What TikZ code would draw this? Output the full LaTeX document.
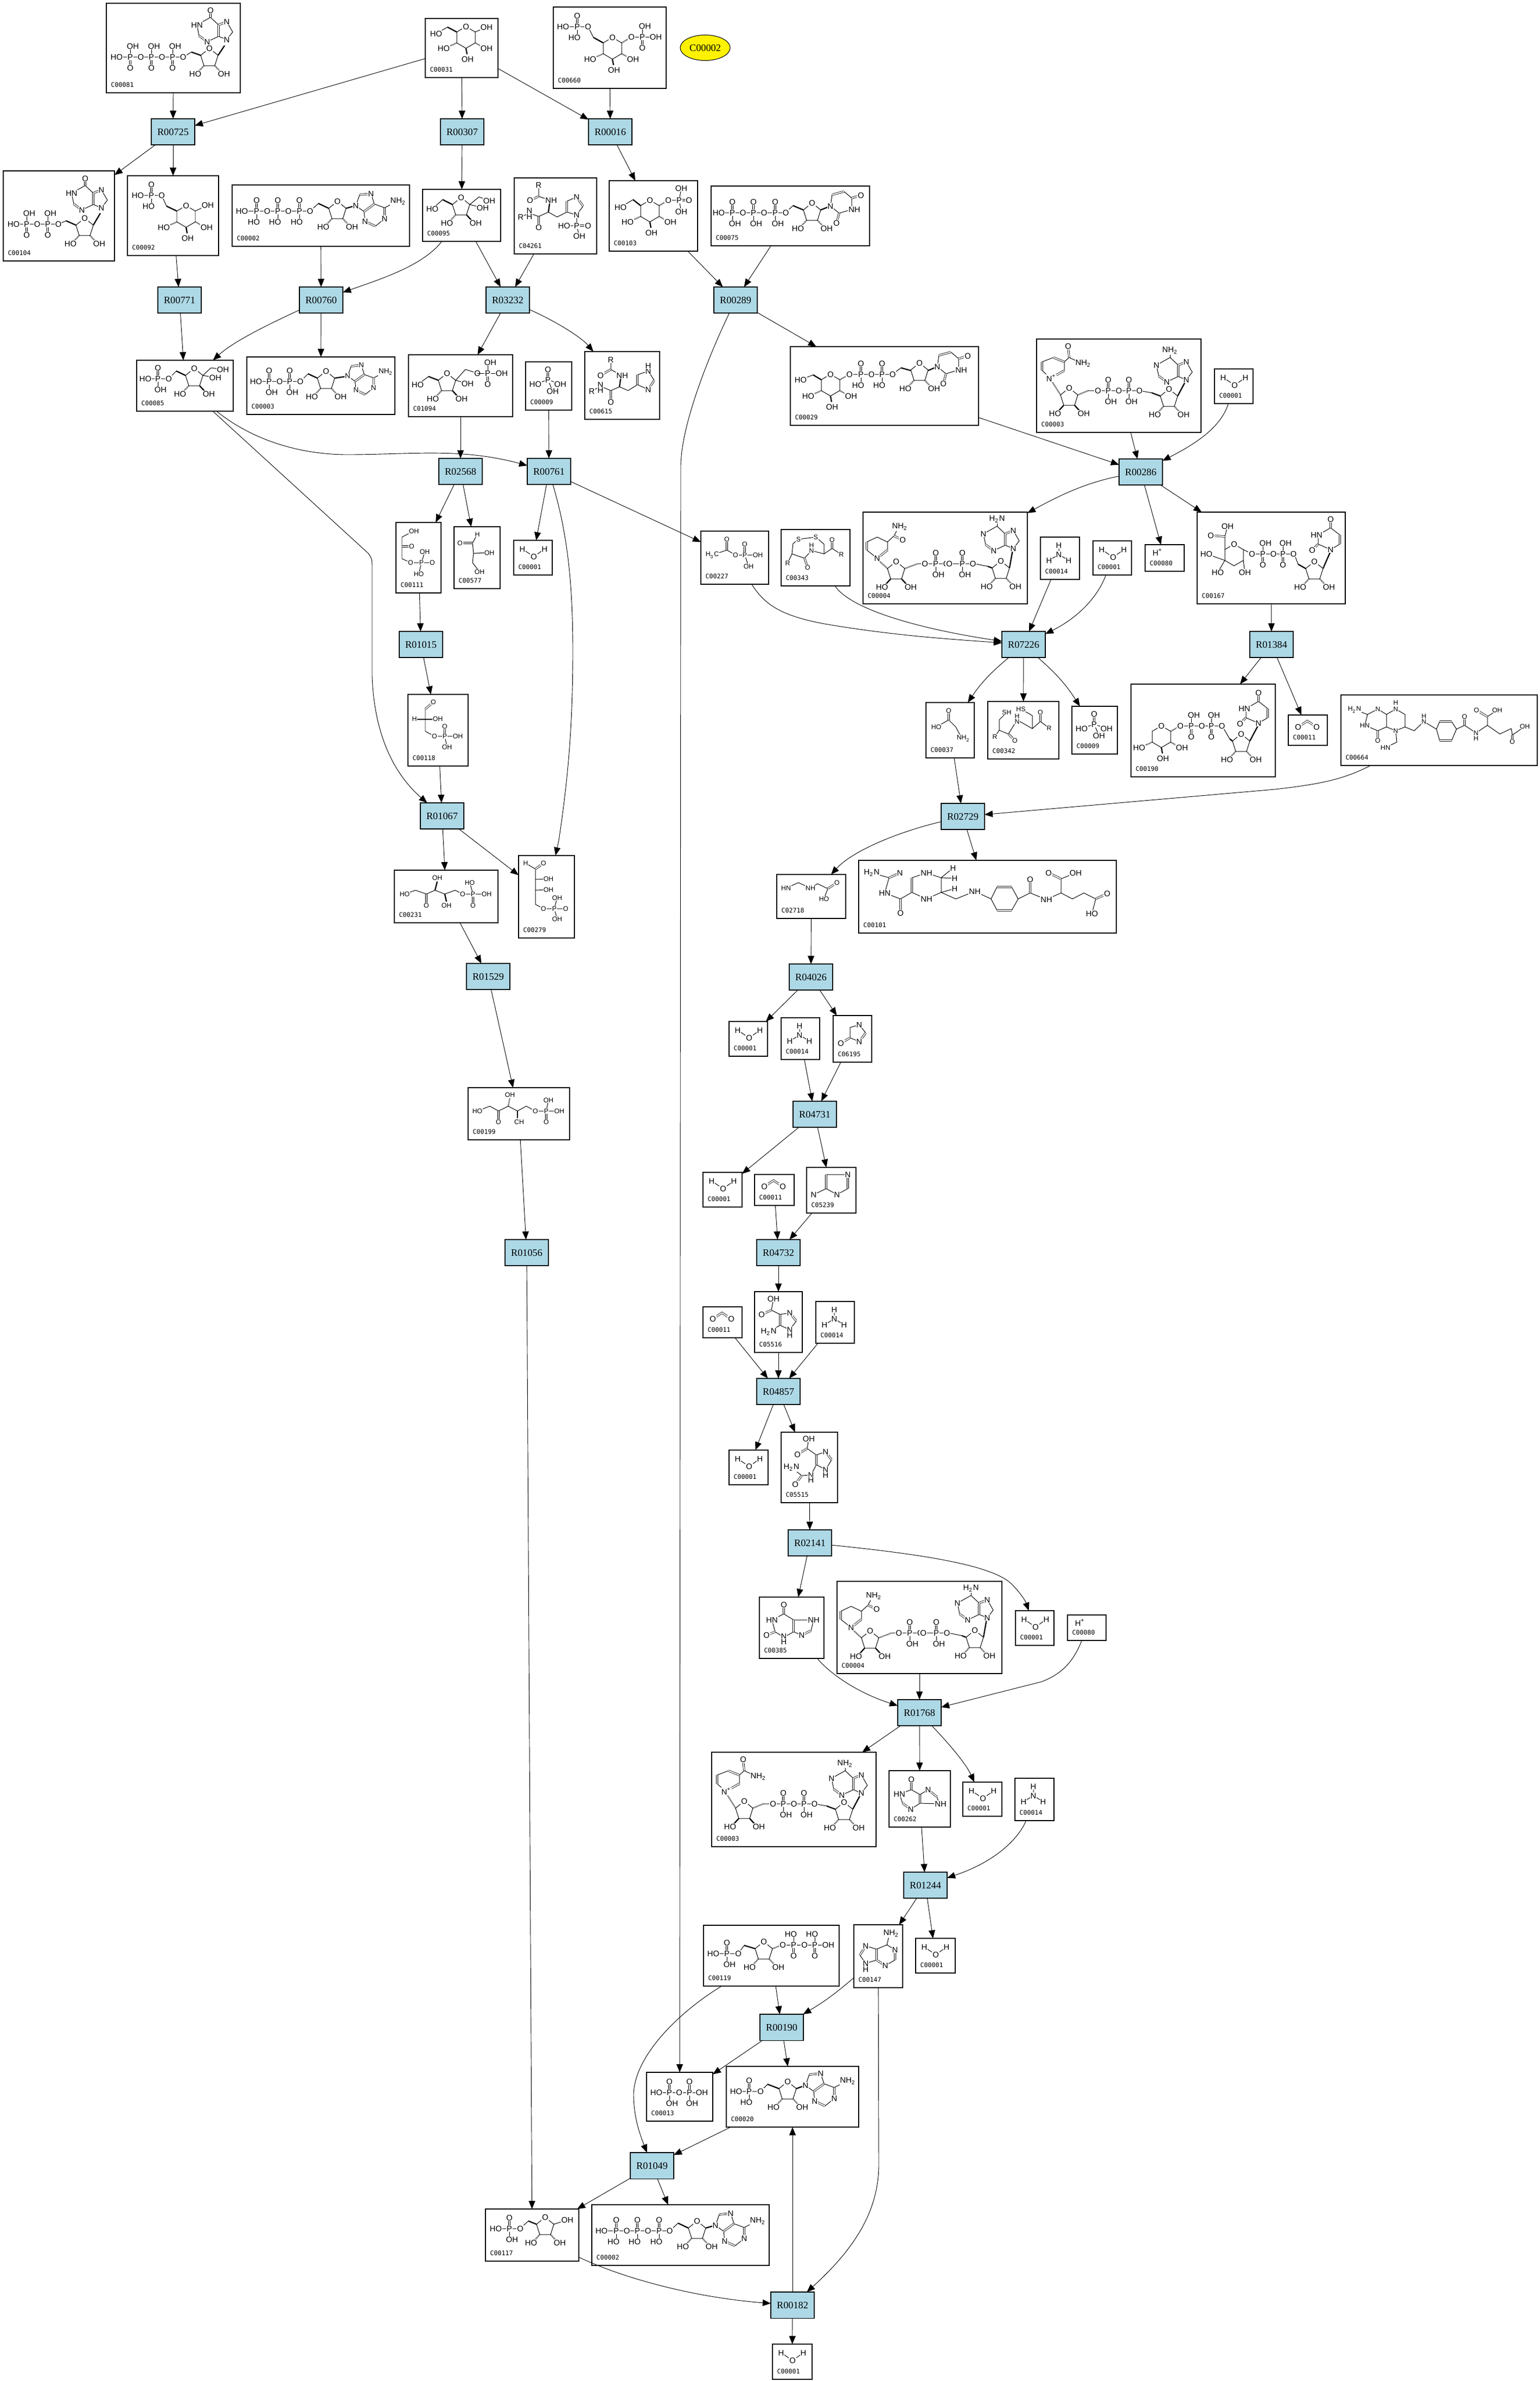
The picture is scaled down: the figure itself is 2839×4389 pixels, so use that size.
\documentclass[tikz,border=0pt]{standalone}
\usepackage{fontspec}
\setmainfont{Liberation Serif}
\setsansfont{Liberation Sans}
\setmonofont{DejaVu Sans Mono}
\usetikzlibrary{arrows.meta, positioning, shapes.geometric}

\newcommand{\rxnfont}{\rmfamily\fontsize{5.2}{6}\selectfont}
\newcommand{\idfont}{\ttfamily\fontsize{3.3}{4}\selectfont}
\newcommand{\atomfont}{\sffamily\fontsize{4.2}{5}\selectfont}
\newcommand{\atomsmall}{\sffamily\fontsize{3.5}{4}\selectfont}
\definecolor{rxnblue}{HTML}{ADD8E6}

\tikzset{
	cpdbox/.style={rectangle, draw, line width=0.32pt, inner sep=0pt, outer sep=0pt},
	rxnbox/.style={rectangle, draw, line width=0.32pt, fill=rxnblue, font=\rxnfont, minimum width=0.8cm, minimum height=0.48cm, inner sep=0pt, outer sep=0pt},
	idtxt/.style={font=\idfont, inner sep=0pt},
	arr/.style={-{Triangle[length=0.15cm, width=0.12cm]}, line width=0.26pt},
	atom/.style={font=\atomfont, fill=white, inner sep=0.25pt},
	bond/.style={line width=0.28pt},
	dbond/.style={line width=0.22pt, double, double distance=0.6pt},
	boldb/.style={line width=0.65pt},
	hash/.style={line width=0.7pt, dash pattern=on 0.22pt off 0.35pt}
}

\newcounter{atomno}
\def\lblO{O}
\def\lblOH{OH}
\def\lblHO{HO}

\newcommand{\cpd}[6]{%
	\pgfmathsetmacro\bw{(#5-#3)*0.01}\pgfmathsetmacro\bh{(#6-#4)*0.01}%
	\node[cpdbox, minimum width=\bw cm, minimum height=\bh cm] (#1) at ({(#3+#5)/2},{(#4+#6)/2}) {};
	\node[idtxt, above right=0.10cm and 0.08cm of #1.south west] (#1id) {#2};
}
\newcommand{\rxn}[4]{\node[rxnbox] (#1) at (#3+40,#4+24) {#2};}
\newcommand{\atoms}[1]{\foreach \lab/\ax/\ay in {#1} {\stepcounter{atomno}\node[atom] (a\theatomno) at (\ax,\ay) {\lab};}}
\newcommand{\place}[4]{\begin{scope}[shift={(#1,#2)}, scale=#3, transform shape]#4\end{scope}}
\newcommand{\smallmol}[1]{\begin{scope}[atom/.append style={font=\atomsmall}]#1\end{scope}}

\newcommand{\psub}[4]{%
	\edef\plab{#4}\def\pdx{0}%
	\ifx\plab\lblOH\def\pdx{5}\fi\ifx\plab\lblHO\def\pdx{-5}\fi
	\ifx\plab\lblO\draw[dbond] (#1,#2) -- (#1,#2+#3);\else\draw[bond] (#1,#2) -- (#1,#2+#3);\fi
	\atoms{#4/#1+\pdx/#2+#3}%
}
\newcommand{\PO}[4]{\psub{#1}{#2}{-20}{#3}\psub{#1}{#2}{20}{#4}\atoms{P/#1/#2}}
\newcommand{\pchain}[2]{\foreach \qx/\qt/\qb in {#2} {\PO{\qx}{#1}{\qt}{\qb}\atoms{O/\qx+19.5/#1}}}

\newcommand{\furan}[2]{%
	\draw[bond] (-16,-4) -- (0,-17) -- (16,-4) -- (10,15) -- (-10,15) -- cycle;
	\draw[#1] (-10,15) -- (-20,26);
	\draw[#2] (10,15) -- (20,26);
	\atoms{O/0/-17,HO/-26/30,OH/27/30}%
}
\newcommand{\fur}[4]{\place{#1}{#2}{1}{\furan{#3}{#4}}}
\newcommand{\pring}{%
	\draw[bond] (0,-20) -- (17,-10) -- (17,10) -- (0,20) -- (-17,10) -- (-17,-10) -- cycle;
	\atoms{O/0/-20}%
}
\newcommand{\pyran}{%
	\pring
	\draw[hash] (-17,10) -- (-30,16);
	\draw[hash] (17,10) -- (28,16);
	\draw[boldb] (0,20) -- (2,31);
	\atoms{HO/-41/20,OH/38/20,OH/3/40}%
}
\newcommand{\pyr}[2]{\place{#1}{#2}{1}{\pyran}}
\newcommand{\adeA}{%
	\draw[bond] (15,11) -- (0,0) -- (7,-20) (28,-22) -- (34,-3) -- (53,4) (53,24) -- (36,38) (17,29) -- (15,11) (53,4) -- (76,-8);
	\draw[dbond] (7,-20) -- (28,-22) (34,-3) -- (15,11) (36,38) -- (17,29) (53,4) -- (53,24);
	\atoms{N/0/0,N/28/-22,N/17/29,N/53/24,NH\textsubscript{2}/78/-8}%
}
\newcommand{\purB}[3]{%
	\draw[bond] (0,0) -- (-15,-6) -- (-36,4) (-51,-7) -- (-55,-27) -- (-30,-41) -- (-15,-27) (0,-33) -- (11,-14) (0,0) -- (11,-14);
	\draw[dbond] (-36,4) -- (-51,-7) (-15,-27) -- (-15,-6) (-15,-27) -- (0,-33);
	\draw[#1] (-30,-41) -- (-30,-54);
	\atoms{N/0/0,N/-36/4,N/0/-33,#3/-55/-27,#2/-30/-54}%
}
\newcommand{\uraA}{%
	\draw[bond] (0,0) -- (3,-21) (25,-27) -- (39,-15) -- (39,6) -- (16,13) -- (0,0);
	\draw[dbond] (3,-21) -- (25,-27) (39,-15) -- (56,-20) (16,13) -- (11,31);
	\atoms{N/0/0,O/56/-20,NH/44/6,O/11/31}%
}
\newcommand{\uraB}{%
	\draw[bond] (0,0) -- (-23,-10) -- (-23,-27) -- (0,-40) -- (17,-27) (17,-10) -- (0,0);
	\draw[dbond] (0,-40) -- (0,-56) (-23,-10) -- (-34,1) (17,-27) -- (17,-10);
	\atoms{N/0/0,HN/-26/-27,O/0/-56,O/-34/1}%
}
\newcommand{\water}{%
	\draw[bond] (16,16) -- (37,30) -- (57,16);
	\atoms{H/16/16,O/37/30,H/57/16}%
}
\newcommand{\nhthree}{%
	\draw[bond] (34,15) -- (34,32) (16,43) -- (34,32) -- (52,43);
	\atoms{H/34/15,N/34/32,H/16/43,H/52/43}%
}
\newcommand{\cotwo}{%
	\draw[dbond] (18,22) -- (35,11) -- (52,22);
	\atoms{O/18/22,O/52/22}%
}
\newcommand{\pimol}{%
	\draw[dbond] (41,33) -- (41,14);
	\draw[bond] (18,41) -- (41,33) -- (64,41) (41,33) -- (50,54);
	\atoms{O/41/14,P/41/33,HO/18/41,OH/64/41,OH/50/54}%
}
\newcommand{\atpmol}{%
	\draw[bond] (18,48) -- (144,48) -- (159,34);
	\draw[boldb] (159,34) -- (178,43) (210,43) -- (224,39);
	\atoms{HO/18/48}
	\pchain{48}{45/O/HO,84/O/HO,124/O/HO}
	\fur{194}{47}{hash}{hash}
	\place{228}{38}{1}{\adeA}%
}
\newcommand{\nadmol}{%
	\draw[hash] (44,103) -- (29,79);
	\draw[hash] (76,103) -- (95,95);
	\draw[bond] (95,95) -- (189,95) -- (212,99);
	\draw[boldb] (212,99) -- (228,105) (260,105) -- (276,75);
	\pchain{95}{132/O/OH,170/O/OH}
	\atoms{O/113/95}
	\place{60}{107}{1}{\furan{boldb}{boldb}}
	\place{244}{109}{1}{\furan{hash}{hash}}
	\place{26}{72}{1}{%
		\draw[bond] (0,0) -- (-16,-14) (-16,-30) -- (5,-38) (25,-30) -- (25,-14) (25,-30) -- (34,-38) -- (58,-27);
		\draw[dbond] (-16,-14) -- (-16,-30) (5,-38) -- (25,-30) (25,-14) -- (0,0) (34,-38) -- (32,-59);
		\atoms{N\textsuperscript{+}/1/0,O/32/-59,NH\textsubscript{2}/60/-27}}
	\place{276}{75}{1}{\purB{bond}{NH\textsubscript{2}}{N}}%
}
\newcommand{\nadhmol}{%
	\draw[hash] (45,104) -- (31,91);
	\draw[hash] (77,104) -- (101,95);
	\draw[bond] (101,95) -- (205,95) -- (230,100);
	\draw[boldb] (230,100) -- (238,103) (270,103) -- (277,64);
	\pchain{95}{134/O/OH,183/O/OH}
	\atoms{O/159/95,O/114/95}
	\place{61}{108}{1}{\furan{boldb}{boldb}}
	\place{254}{107}{1}{\furan{hash}{hash}}
	\place{26}{85}{1}{%
		\draw[bond] (0,0) -- (-19,-15) (-19,-30) -- (0,-39) -- (19,-30) -- (19,-15) (19,-30) -- (31,-41) -- (40,-58);
		\draw[dbond] (-19,-15) -- (-19,-30) (19,-15) -- (0,0) (31,-41) -- (47,-34);
		\atoms{N/0/0,O/47/-34,NH\textsubscript{2}/42/-58}}
	\place{277}{67}{1}{\purB{bond}{H\textsubscript{2}N}{N}}%
}

\begin{document}
\begin{tikzpicture}[x=0.01cm, y=-0.01cm]
	\useasboundingbox (0,0) rectangle (2839,4389);

	\cpd{c00081}{C00081}{196}{6}{443}{171}
	\cpd{c00031}{C00031}{784}{34}{918}{143}
	\cpd{c00660}{C00660}{1020}{13}{1228}{163}
	\node[ellipse, draw, fill=yellow, line width=0.3pt, font=\rxnfont, minimum width=0.92cm, minimum height=0.47cm, inner sep=0pt] (cyellow) at (1300,88) {C00002};
	\cpd{c00104}{C00104}{6}{315}{211}{481}
	\cpd{c00092}{C00092}{235}{324}{403}{471}
	\cpd{c00002a}{C00002}{428}{341}{755}{454}
	\cpd{c00095}{C00095}{779}{349}{923}{445}
	\cpd{c04261}{C04261}{948}{328}{1100}{468}
	\cpd{c00103}{C00103}{1123}{333}{1286}{463}
	\cpd{c00075}{C00075}{1311}{343}{1603}{453}
	\cpd{c00085}{C00085}{252}{664}{430}{758}
	\cpd{c00003a}{C00003}{455}{658}{728}{764}
	\cpd{c01094}{C01094}{753}{654}{945}{768}
	\cpd{c00009a}{C00009}{969}{667}{1054}{756}
	\cpd{c00615}{C00615}{1078}{648}{1216}{773}
	\cpd{c00029}{C00029}{1457}{639}{1804}{784}
	\cpd{c00003b}{C00003}{1911}{625}{2214}{797}
	\cpd{c00001a}{C00001}{2239}{680}{2310}{744}
	\cpd{c00111}{C00111}{730}{963}{813}{1093}
	\cpd{c00577}{C00577}{837}{971}{922}{1085}
	\cpd{c00001b}{C00001}{947}{996}{1018}{1060}
	\cpd{c00227}{C00227}{1292}{979}{1417}{1077}
	\cpd{c00343}{C00343}{1440}{976}{1567}{1080}
	\cpd{c00004a}{C00004}{1591}{944}{1894}{1113}
	\cpd{c00014a}{C00014}{1918}{990}{1990}{1068}
	\cpd{c00001c}{C00001}{2015}{997}{2086}{1060}
	\cpd{c00080a}{C00080}{2111}{1004}{2183}{1053}
	\cpd{c00167}{C00167}{2207}{944}{2480}{1113}
	\cpd{c00118}{C00118}{752}{1280}{863}{1412}
	\cpd{c00037}{C00037}{1707}{1295}{1796}{1397}
	\cpd{c00342}{C00342}{1821}{1293}{1952}{1399}
	\cpd{c00009b}{C00009}{1976}{1302}{2060}{1390}
	\cpd{c00190}{C00190}{2085}{1261}{2351}{1432}
	\cpd{c00011a}{C00011}{2375}{1318}{2447}{1374}
	\cpd{c00664}{C00664}{2472}{1281}{2834}{1411}
	\cpd{c00231}{C00231}{727}{1604}{918}{1701}
	\cpd{c00279}{C00279}{956}{1577}{1059}{1729}
	\cpd{c02718}{C02718}{1432}{1612}{1559}{1693}
	\cpd{c00101}{C00101}{1583}{1586}{2058}{1720}
	\cpd{c00001d}{C00001}{1344}{1883}{1415}{1947}
	\cpd{c00014b}{C00014}{1440}{1876}{1511}{1953}
	\cpd{c06195}{C06195}{1536}{1872}{1607}{1958}
	\cpd{c00199}{C00199}{863}{2005}{1050}{2101}
	\cpd{c00001e}{C00001}{1296}{2161}{1368}{2225}
	\cpd{c00011b}{C00011}{1391}{2165}{1464}{2222}
	\cpd{c05239}{C05239}{1487}{2152}{1578}{2236}
	\cpd{c00011c}{C00011}{1296}{2409}{1368}{2466}
	\cpd{c05516}{C05516}{1391}{2381}{1479}{2493}
	\cpd{c00014c}{C00014}{1504}{2399}{1575}{2476}
	\cpd{c00001f}{C00001}{1344}{2673}{1416}{2737}
	\cpd{c05515}{C05515}{1440}{2640}{1544}{2770}
	\cpd{c00385}{C00385}{1400}{2944}{1519}{3057}
	\cpd{c00004b}{C00004}{1543}{2915}{1847}{3085}
	\cpd{c00001g}{C00001}{1872}{2969}{1943}{3033}
	\cpd{c00080b}{C00080}{1968}{2977}{2039}{3024}
	\cpd{c00003c}{C00003}{1312}{3230}{1615}{3404}
	\cpd{c00262}{C00262}{1639}{3264}{1752}{3368}
	\cpd{c00001h}{C00001}{1775}{3285}{1847}{3348}
	\cpd{c00014d}{C00014}{1871}{3278}{1943}{3356}
	\cpd{c00119}{C00119}{1297}{3549}{1547}{3661}
	\cpd{c00147}{C00147}{1574}{3548}{1664}{3664}
	\cpd{c00001i}{C00001}{1688}{3573}{1761}{3637}
	\cpd{c00013}{C00013}{1192}{3820}{1314}{3910}
	\cpd{c00020}{C00020}{1339}{3809}{1583}{3921}
	\cpd{c00117}{C00117}{895}{4072}{1067}{4168}
	\cpd{c00002b}{C00002}{1091}{4064}{1418}{4176}
	\cpd{c00001j}{C00001}{1424}{4321}{1497}{4386}

	\rxn{R00725}{R00725}{279}{219}
	\rxn{R00307}{R00307}{812}{219}
	\rxn{R00016}{R00016}{1085}{219}
	\rxn{R00771}{R00771}{291}{529}
	\rxn{R00760}{R00760}{552}{529}
	\rxn{R03232}{R03232}{896}{529}
	\rxn{R00289}{R00289}{1316}{529}
	\rxn{R02568}{R02568}{809}{845}
	\rxn{R00761}{R00761}{972}{845}
	\rxn{R00286}{R00286}{2063}{846}
	\rxn{R01015}{R01015}{736}{1164}
	\rxn{R07226}{R07226}{1847}{1164}
	\rxn{R01384}{R01384}{2304}{1164}
	\rxn{R01067}{R01067}{775}{1480}
	\rxn{R02729}{R02729}{1735}{1481}
	\rxn{R01529}{R01529}{860}{1776}
	\rxn{R04026}{R04026}{1455}{1777}
	\rxn{R04731}{R04731}{1462}{2030}
	\rxn{R01056}{R01056}{931}{2285}
	\rxn{R04732}{R04732}{1395}{2285}
	\rxn{R04857}{R04857}{1395}{2541}
	\rxn{R02141}{R02141}{1453}{2820}
	\rxn{R01768}{R01768}{1655}{3133}
	\rxn{R01244}{R01244}{1666}{3451}
	\rxn{R00190}{R00190}{1401}{3713}
	\rxn{R01049}{R01049}{1162}{3968}
	\rxn{R00182}{R00182}{1421}{4225}

	\draw[arr] (c00081) -- (R00725);
	\draw[arr] (c00031) -- (R00725);
	\draw[arr] (c00031) -- (R00307);
	\draw[arr] (c00031) -- (R00016);
	\draw[arr] (c00660) -- (R00016);
	\draw[arr] (R00725) -- (c00104);
	\draw[arr] (R00725) -- (c00092);
	\draw[arr] (R00307) -- (c00095);
	\draw[arr] (R00016) -- (c00103);
	\draw[arr] (c00092) -- (R00771);
	\draw[arr] (c00002a) -- (R00760);
	\draw[arr] (c00095) .. controls (780,490) and (700,515) .. (R00760);
	\draw[arr] (c00095) -- (R03232);
	\draw[arr] (c04261) -- (R03232);
	\draw[arr] (c00103) -- (R00289);
	\draw[arr] (c00075) -- (R00289);
	\draw[arr] (R00771) -- (c00085);
	\draw[arr] (R00760) .. controls (490,600) and (430,630) .. (c00085);
	\draw[arr] (R00760) -- (c00003a);
	\draw[arr] (R03232) -- (c01094);
	\draw[arr] (R03232) .. controls (1020,590) and (1070,620) .. (c00615);
	\draw[arr] (R00289) -- (c00029);
	\draw[arr] (R00289) .. controls (1300,670) and (1255,790) .. (1255,860) -- (c00013);
	\draw[arr] (c00085) .. controls (470,815) and (560,838) .. (640,838) .. controls (760,838) and (850,825) .. (R00761);
	\draw[arr] (c00085) -- (679,1020) .. controls (686,1030) .. (686,1050) -- (686,1246) .. controls (690,1360) and (730,1430) .. (R01067);
	\draw[arr] (c01094) -- (R02568);
	\draw[arr] (c00009a) -- (R00761);
	\draw[arr] (c00029) -- (R00286);
	\draw[arr] (c00003b) -- (R00286);
	\draw[arr] (c00001a) .. controls (2250,790) and (2200,820) .. (R00286);
	\draw[arr] (R02568) -- (c00111);
	\draw[arr] (R02568) -- (c00577);
	\draw[arr] (R00761) -- (c00001b);
	\draw[arr] (R00761) .. controls (1045,980) and (1056,1070) .. (1056,1200) .. controls (1056,1350) and (1045,1450) .. (1030,1550) -- (c00279);
	\draw[arr] (R00761) -- (c00227);
	\draw[arr] (R00286) .. controls (2000,890) and (1950,915) .. (c00004a);
	\draw[arr] (R00286) -- (c00080a);
	\draw[arr] (R00286) -- (c00167);
	\draw[arr] (c00227) .. controls (1410,1115) and (1440,1135) .. (1520,1150) .. controls (1650,1172) and (1750,1178) .. (R07226);
	\draw[arr] (c00343) .. controls (1570,1125) and (1700,1160) .. (R07226);
	\draw[arr] (c00014a) -- (R07226);
	\draw[arr] (c00001c) .. controls (2020,1110) and (1975,1145) .. (R07226);
	\draw[arr] (R07226) to[bend right=8] (c00037);
	\draw[arr] (R07226) -- (c00342);
	\draw[arr] (R07226) to[bend left=8] (c00009b);
	\draw[arr] (c00167) -- (R01384);
	\draw[arr] (R01384) -- (c00190);
	\draw[arr] (R01384) -- (c00011a);
	\draw[arr] (c00664) .. controls (2480,1435) and (2440,1445) .. (2350,1455) -- (R02729);
	\draw[arr] (c00037) -- (R02729);
	\draw[arr] (R02729) .. controls (1650,1535) and (1570,1570) .. (c02718);
	\draw[arr] (R02729) -- (c00101);
	\draw[arr] (c00111) -- (R01015);
	\draw[arr] (R01015) -- (c00118);
	\draw[arr] (c00118) -- (R01067);
	\draw[arr] (R01067) -- (c00231);
	\draw[arr] (R01067) -- (c00279);
	\draw[arr] (c00231) -- (R01529);
	\draw[arr] (R01529) -- (c00199);
	\draw[arr] (c00199) -- (R01056);
	\draw[arr] (R01056) -- (c00117);
	\draw[arr] (c02718) -- (R04026);
	\draw[arr] (R04026) -- (c00001d);
	\draw[arr] (R04026) -- (c06195);
	\draw[arr] (c00014b) -- (R04731);
	\draw[arr] (c06195) -- (R04731);
	\draw[arr] (R04731) -- (c00001e);
	\draw[arr] (R04731) -- (c05239);
	\draw[arr] (c00011b) -- (R04732);
	\draw[arr] (c05239) -- (R04732);
	\draw[arr] (R04732) -- (c05516);
	\draw[arr] (c00011c) -- (R04857);
	\draw[arr] (c05516) -- (R04857);
	\draw[arr] (c00014c) -- (R04857);
	\draw[arr] (R04857) -- (c00001f);
	\draw[arr] (R04857) -- (c05515);
	\draw[arr] (c05515) -- (R02141);
	\draw[arr] (R02141) -- (c00385);
	\draw[arr] (R02141) .. controls (1700,2865) and (1830,2885) .. (1865,2920) .. controls (1880,2935) and (1890,2950) .. (c00001g);
	\draw[arr] (c00385) .. controls (1530,3085) and (1580,3120) .. (R01768);
	\draw[arr] (c00004b) -- (R01768);
	\draw[arr] (c00080b) .. controls (1980,3060) and (1960,3085) .. (1920,3100) -- (R01768);
	\draw[arr] (R01768) -- (c00003c);
	\draw[arr] (R01768) -- (c00262);
	\draw[arr] (R01768) .. controls (1750,3215) and (1780,3250) .. (c00001h);
	\draw[arr] (c00262) -- (R01244);
	\draw[arr] (c00014d) .. controls (1880,3385) and (1840,3430) .. (R01244);
	\draw[arr] (R01244) -- (c00147);
	\draw[arr] (R01244) -- (c00001i);
	\draw[arr] (c00119) -- (R00190);
	\draw[arr] (c00147) to[bend left=5] (R00190);
	\draw[arr] (c00119) .. controls (1250,3710) and (1170,3790) .. (1168,3860) .. controls (1168,3900) and (1178,3930) .. (R01049);
	\draw[arr] (R00190) -- (c00013);
	\draw[arr] (R00190) -- (c00020);
	\draw[arr] (c00020) -- (R01049);
	\draw[arr] (R01049) -- (c00117);
	\draw[arr] (R01049) -- (c00002b);
	\draw[arr] (c00117) .. controls (1150,4200) and (1280,4235) .. (R00182);
	\draw[arr] (c00147) -- (1620,3990) .. controls (1620,4080) and (1570,4150) .. (R00182);
	\draw[arr] (R00182) -- (c00020);
	\draw[arr] (R00182) -- (c00001j);

	\place{2239}{680}{1}{\water}
	\place{2015}{997}{1}{\water}
	\place{947}{996}{1}{\water}
	\place{1344}{1883}{1}{\water}
	\place{1296}{2161}{1}{\water}
	\place{1344}{2673}{1}{\water}
	\place{1872}{2969}{1}{\water}
	\place{1775}{3285}{1}{\water}
	\place{1688}{3573}{1}{\water}
	\place{1424}{4321}{1}{\water}
	\place{1918}{990}{1}{\nhthree}
	\place{1440}{1876}{1}{\nhthree}
	\place{1504}{2399}{1}{\nhthree}
	\place{1871}{3278}{1}{\nhthree}
	\place{2375}{1318}{1}{\cotwo}
	\place{1391}{2165}{1}{\cotwo}
	\place{1296}{2409}{1}{\cotwo}
	\place{969}{667}{1}{\pimol}
	\place{1976}{1302}{1}{\pimol}
	\atoms{H\textsuperscript{+}/2134/1018,H\textsuperscript{+}/1991/2991}

	\place{428}{341}{1}{\atpmol}
	\place{1091}{4064}{1}{\atpmol}
	\place{1911}{625}{1}{\nadmol}
	\place{1312}{3230}{1}{\nadmol}
	\place{1591}{944}{1}{\nadhmol}
	\place{1543}{2915}{1}{\nadhmol}

	\draw[bond] (215,105) -- (338,105) -- (353,96);
	\draw[boldb] (353,96) -- (370,102) (402,102) -- (414,84);
	\atoms{HO/215/105}
	\pchain{105}{240/OH/O,279/OH/O,318/OH/O}
	\fur{386}{106}{hash}{hash}
	\place{418}{73}{1}{\purB{dbond}{O}{HN}}

	\pyr{859}{69}
	\draw[boldb] (842,59) -- (825,50);
	\draw[bond] (825,50) -- (804,62) (876,59) -- (897,50);
	\atoms{HO/804/62,OH/897/50}

	\pyr{1129}{89}
	\draw[boldb] (1112,79) -- (1094,69);
	\draw[bond] (1094,69) -- (1084,49) -- (1038,49);
	\draw[hash] (1146,79) -- (1164,68);
	\draw[bond] (1164,68) -- (1209,68);
	\atoms{HO/1038/49,O/1084/49,O/1164/68,OH/1209/68}
	\PO{1064}{49}{O}{HO}
	\PO{1184}{68}{OH}{O}

	\draw[bond] (25,413) -- (108,413) -- (122,407);
	\draw[boldb] (122,407) -- (140,415) (172,415) -- (185,393);
	\atoms{HO/25/413}
	\pchain{413}{49/OH/O,88/OH/O}
	\fur{156}{419}{hash}{hash}
	\place{187}{383}{1}{\purB{dbond}{O}{HN}}

	\draw[bond] (254,360) -- (298,360) -- (307,380);
	\draw[boldb] (307,380) -- (326,389);
	\draw[bond] (360,389) -- (383,378);
	\atoms{HO/254/360,O/298/360,OH/383/378}
	\PO{279}{360}{O}{HO}
	\pyr{343}{399}

	\draw[boldb] (834,377) -- (816,368);
	\draw[bond] (816,368) -- (797,385) (866,377) -- (883,363) -- (902,370) (866,377) -- (890,383);
	\atoms{HO/797/385,OH/902/370,OH/890/383}
	\fur{850}{381}{hash}{boldb}

	\draw[bond] (993,341) -- (993,362) -- (1014,369) (1011,391) -- (993,399) -- (976,393) -- (960,400) (1011,391) -- (1027,400) -- (1045,391) -- (1063,396) -- (1075,380) (1045,371) -- (1063,363) (1063,396) -- (1063,416) (1040,416) -- (1063,416) (1063,416) -- (1068,435);
	\draw[dbond] (993,362) -- (977,369) (993,399) -- (993,419) (1045,391) -- (1045,371) (1063,363) -- (1075,380) (1063,416) -- (1084,416);
	\draw[boldb] (1014,369) -- (1011,391);
	\atoms{R/993/341,O/977/369,NH/1016/369,O/993/419,N/976/388,H/976/399,R/960/400,N/1063/363,N/1063/396,P/1063/416,HO/1040/416,O/1084/416,OH/1068/435}

	\draw[bond] (1126,663) -- (1126,681) -- (1145,692) (1142,713) -- (1126,720) -- (1107,712) -- (1091,721) (1142,713) -- (1158,720) -- (1175,709) -- (1195,718) (1175,691) -- (1195,684) -- (1206,701);
	\draw[dbond] (1126,681) -- (1107,692) (1126,720) -- (1126,741) (1175,709) -- (1175,691) (1206,701) -- (1195,718);
	\draw[boldb] (1145,692) -- (1142,713);
	\atoms{R/1126/663,O/1107/692,NH/1147/692,O/1126/741,N/1107/709,H/1107/719,R/1091/721,N/1195/684,H/1195/674,N/1195/718}

	\draw[boldb] (1181,379) -- (1167,368);
	\draw[bond] (1167,368) -- (1144,382);
	\draw[hash] (1215,379) -- (1232,369);
	\draw[bond] (1232,369) -- (1252,369) -- (1256,347) (1252,369) -- (1256,390);
	\draw[dbond] (1252,369) -- (1270,369);
	\atoms{HO/1144/382,O/1232/369,P/1252/369,O/1270/369,OH/1256/347,OH/1256/390}
	\pyr{1198}{389}

	\draw[bond] (1325,392) -- (1448,392) -- (1462,379);
	\draw[boldb] (1462,379) -- (1481,387) (1513,387) -- (1528,381);
	\atoms{HO/1325/392}
	\pchain{392}{1350/O/OH,1389/O/OH,1429/O/OH}
	\fur{1497}{391}{hash}{hash}
	\place{1531}{380}{1}{\uraA}

	\draw[bond] (268,698) -- (311,698) -- (325,684);
	\draw[boldb] (325,684) -- (342,692);
	\draw[bond] (374,692) -- (389,678) -- (411,681) (374,692) -- (397,696);
	\atoms{HO/268/698,O/311/698,OH/411/681,OH/397/696}
	\PO{291}{698}{O}{OH}
	\fur{358}{696}{hash}{boldb}

	\draw[bond] (472,703) -- (554,703) -- (568,689);
	\draw[boldb] (568,689) -- (585,697) (617,697) -- (637,694);
	\atoms{HO/472/703}
	\pchain{703}{496/O/OH,534/O/OH}
	\fur{601}{701}{hash}{hash}
	\place{641}{693}{0.9}{\adeA}

	\draw[boldb] (808,701) -- (790,694);
	\draw[bond] (790,694) -- (770,709) (840,701) -- (858,681) -- (880,688) (840,701) -- (862,707);
	\atoms{HO/770/709,O/880/688,OH/862/707}
	\draw[bond] (880,688) -- (925,688);
	\atoms{OH/925/688}
	\PO{899}{688}{OH}{O}
	\fur{824}{705}{hash}{boldb}

	\draw[boldb] (1514,700) -- (1499,691);
	\draw[bond] (1499,691) -- (1476,700);
	\draw[hash] (1548,700) -- (1566,690);
	\draw[bond] (1566,690) -- (1645,690) -- (1661,678);
	\draw[boldb] (1661,678) -- (1679,683) (1711,683) -- (1725,677);
	\atoms{HO/1476/700,O/1566/690}
	\pchain{690}{1587/O/HO,1626/O/HO}
	\pyr{1531}{710}
	\fur{1695}{686}{hash}{hash}
	\place{1728}{676}{1}{\uraA}

	\smallmol{
	\draw[bond] (763,979) -- (741,990) (741,990) -- (741,1030) -- (757,1037) -- (797,1037) (777,1037) -- (783,1017) (777,1037) -- (772,1058);
	\draw[dbond] (741,1007) -- (759,1007);
	\atoms{OH/763/979,O/759/1007,O/757/1037,P/777/1037,OH/783/1017,O/797/1037,HO/772/1058}

	\draw[bond] (880,985) -- (871,1001) (871,1001) -- (873,1020) -- (871,1037) -- (884,1054);
	\draw[dbond] (871,1001) -- (848,1001);
	\draw[hash] (873,1020) -- (895,1019);
	\atoms{H/880/985,O/848/1001,OH/902/1019,OH/884/1054}

	\draw[bond] (784,1307) -- (784,1348) -- (801,1357) -- (844,1357) (820,1357) -- (824,1377);
	\draw[dbond] (784,1307) -- (799,1294) (820,1357) -- (820,1339);
	\draw[boldb] (764,1326) -- (807,1326);
	\atoms{O/799/1294,H/764/1325,OH/807/1325,O/801/1357,P/820/1357,O/820/1339,OH/844/1357,OH/824/1377}

	\draw[bond] (746,1648) -- (766,1641) -- (786,1648) -- (802,1641) -- (820,1648) -- (839,1641) -- (853,1648) -- (897,1648) (872,1648) -- (866,1627);
	\draw[dbond] (786,1648) -- (786,1669) (872,1648) -- (872,1669);
	\draw[boldb] (802,1641) -- (806,1625) (820,1648) -- (823,1662);
	\atoms{HO/746/1648,O/786/1669,OH/806/1618,OH/823/1669,O/853/1648,P/872/1648,HO/866/1627,OH/897/1648,O/872/1669}

	\draw[bond] (880,2048) -- (903,2039) -- (919,2048) -- (937,2039) -- (954,2048) -- (970,2039) -- (987,2048) -- (1031,2048) (1007,2048) -- (1011,2028);
	\draw[dbond] (919,2048) -- (919,2068) (1007,2048) -- (1007,2068);
	\draw[hash] (937,2039) -- (940,2024);
	\draw[boldb] (954,2048) -- (954,2061);
	\atoms{HO/880/2048,O/919/2068,OH/940/2018,CH/957/2068,O/987/2048,P/1007/2048,OH/1011/2028,OH/1031/2048,O/1007/2068}

	\draw[bond] (969,1591) -- (987,1602) -- (987,1667) -- (1002,1675) -- (1043,1675) (987,1621) -- (1011,1620) (987,1641) -- (1011,1640) (1022,1675) -- (1027,1655) (1022,1675) -- (1027,1694);
	\draw[dbond] (987,1602) -- (1002,1591);
	\atoms{H/969/1591,O/1002/1591,OH/1011/1620,OH/1011/1640,O/1002/1675,P/1022/1675,OH/1027/1655,O/1043/1675,OH/1027/1694}

	\draw[bond] (1313,1023) -- (1340,1014) -- (1356,1023) -- (1397,1023) (1373,1023) -- (1380,1044);
	\draw[dbond] (1340,1014) -- (1340,994) (1373,1023) -- (1373,1003);
	\atoms{H\textsubscript{3}C/1313/1023,O/1340/994,O/1356/1023,P/1373/1023,O/1373/1003,OH/1397/1023,OH/1380/1044}

	\draw[bond] (1462,1002) -- (1472,994) -- (1504,990) -- (1519,1003) -- (1519,1021) -- (1496,1015) -- (1483,1029) -- (1460,1021) -- (1462,1002) (1460,1021) -- (1452,1038) (1519,1021) -- (1534,1011) -- (1551,1022);
	\draw[dbond] (1534,1011) -- (1534,995) (1483,1029) -- (1489,1046);
	\atoms{S/1472/994,S/1504/990,N/1496/1015,H/1496/1005,R/1452/1038,O/1489/1046,O/1534/995,R/1551/1022}

	\draw[bond] (1726,1340) -- (1749,1327) -- (1762,1340) -- (1773,1361);
	\draw[dbond] (1749,1327) -- (1749,1310);
	\atoms{O/1749/1310,HO/1726/1340,NH\textsubscript{2}/1776/1361}

	\draw[bond] (1856,1313) -- (1842,1327) -- (1842,1346) -- (1834,1358) (1842,1346) -- (1859,1353) -- (1875,1327) (1875,1327) -- (1903,1343) -- (1903,1319) -- (1882,1307) (1903,1343) -- (1918,1330) -- (1934,1342);
	\draw[dbond] (1859,1353) -- (1871,1365) (1918,1330) -- (1918,1313);
	\atoms{SH/1856/1313,R/1834/1358,O/1871/1365,N/1875/1330,H/1875/1320,HS/1882/1307,O/1918/1313,R/1934/1342}

	\draw[bond] (1449,1637) -- (1472,1627) -- (1494,1637) -- (1507,1629) -- (1526,1638) -- (1519,1657);
	\draw[dbond] (1526,1638) -- (1543,1627);
	\atoms{HN/1449/1637,NH/1494/1637,O/1543/1627,HO/1519/1657}
	}

	\pyr{2141}{1358}
	\draw[hash] (2158,1348) -- (2176,1338);
	\draw[bond] (2176,1338) -- (2253,1338) -- (2267,1362);
	\draw[boldb] (2267,1362) -- (2272,1366);
	\draw[boldb] (2304,1366) -- (2320,1336);
	\atoms{O/2176/1338}
	\pchain{1338}{2196/OH/O,2233/OH/O}
	\fur{2288}{1370}{hash}{hash}
	\place{2320}{1333}{1}{\uraB}

	\place{2275}{1023}{1}{\pring}
	\draw[bond] (2258,1013) -- (2258,989) -- (2263,970) (2258,1033) -- (2224,1021) (2258,1033) -- (2245,1055) (2292,1033) -- (2295,1055) (2292,1013) -- (2308,1021);
	\draw[dbond] (2258,989) -- (2232,987);
	\draw[bond] (2308,1021) -- (2386,1021) -- (2393,1040);
	\draw[boldb] (2393,1040) -- (2407,1048) (2439,1048) -- (2453,1016);
	\atoms{O/2232/987,OH/2263/970,HO/2224/1021,HO/2245/1055,OH/2295/1055,O/2308/1021}
	\pchain{1021}{2328/OH/O,2365/OH/O}
	\fur{2423}{1052}{hash}{hash}
	\place{2453}{1013}{1}{\uraB}

	\draw[bond] (1607,1609) -- (1639,1618) -- (1659,1609) (1681,1618) -- (1708,1609) -- (1735,1618) -- (1757,1600) (1735,1618) -- (1760,1619) (1735,1618) -- (1735,1645) -- (1760,1638) (1735,1645) -- (1708,1657) -- (1681,1645) -- (1660,1657) -- (1631,1646) -- (1639,1618) (1735,1645) -- (1762,1657) -- (1797,1643) -- (1827,1657) (1877,1657) -- (1899,1646) -- (1929,1658) -- (1956,1646) -- (1956,1620) -- (1983,1609) (1956,1646) -- (1977,1657) -- (1998,1646) -- (2020,1657) -- (2013,1684) (1827,1657) -- (1838,1635) -- (1865,1635) -- (1877,1657) -- (1865,1678) -- (1838,1678) -- cycle;
	\draw[dbond] (1639,1618) -- (1659,1609) (1681,1618) -- (1681,1645) (1660,1657) -- (1660,1683) (1899,1646) -- (1899,1621) (1956,1620) -- (1933,1609) (2020,1657) -- (2041,1647) (1838,1635) -- (1865,1635) (1838,1678) -- (1865,1678);
	\atoms{H\textsubscript{2}N/1607/1609,N/1659/1609,NH/1708/1609,H/1757/1600,H/1760/1619,H/1760/1638,NH/1708/1657,O/1660/1683,HN/1631/1646,NH/1797/1643,O/1899/1621,NH/1929/1658,O/1933/1609,OH/1983/1609,O/2041/1647,HO/2013/1684}

	\smallmol{
	\draw[bond] (2497,1308) -- (2521,1317) -- (2540,1307) -- (2556,1317) -- (2573,1307) -- (2590,1317) -- (2590,1340) -- (2573,1347) -- (2556,1340) -- (2540,1347) -- (2516,1337) -- (2521,1317) (2556,1317) -- (2556,1340) (2573,1347) -- (2575,1368) -- (2554,1378) (2590,1340) -- (2607,1347) -- (2625,1330) -- (2648,1344) -- (2654,1330) -- (2676,1330) -- (2685,1344) -- (2676,1365) -- (2654,1365) -- (2648,1344) (2685,1344) -- (2700,1337) -- (2721,1351) -- (2742,1337) -- (2742,1321) -- (2760,1309) (2742,1337) -- (2765,1353) -- (2786,1343) -- (2788,1355) -- (2811,1339);
	\draw[dbond] (2540,1347) -- (2540,1365) (2700,1337) -- (2700,1321) (2742,1321) -- (2722,1309) (2788,1355) -- (2788,1367) (2654,1330) -- (2676,1330) (2654,1365) -- (2676,1365);
	\atoms{H\textsubscript{2}N/2497/1308,N/2540/1307,N/2573/1307,H/2573/1295,N/2573/1347,O/2540/1365,HN/2516/1337,HN/2554/1378,N/2625/1330,H/2625/1320,O/2700/1321,N/2721/1351,H/2721/1361,O/2722/1309,OH/2760/1309,O/2788/1367,OH/2811/1339}
	}

	\draw[bond] (1584,1889) -- (1567,1894) -- (1567,1913) -- (1584,1920) (1596,1904) -- (1584,1889);
	\draw[dbond] (1584,1920) -- (1596,1904) (1567,1913) -- (1550,1923);
	\atoms{N/1584/1889,N/1584/1920,O/1550/1923}

	\draw[bond] (1523,2165) -- (1563,2165) (1563,2191) -- (1543,2202) -- (1523,2191) -- (1500,2202);
	\draw[dbond] (1523,2165) -- (1523,2191) (1563,2165) -- (1563,2191);
	\atoms{N/1563/2165,N/1543/2202,N/1500/2202}

	\draw[bond] (1426,2394) -- (1422,2415) -- (1438,2423) -- (1456,2420) (1468,2435) -- (1456,2451) -- (1438,2443) -- (1417,2455);
	\draw[dbond] (1422,2415) -- (1404,2423) (1438,2423) -- (1438,2443) (1456,2420) -- (1468,2435);
	\atoms{OH/1426/2394,O/1404/2423,N/1456/2420,N/1456/2451,H/1456/2461,H\textsubscript{2}N/1417/2455}

	\draw[bond] (1491,2652) -- (1488,2670) -- (1505,2682) -- (1522,2676) (1533,2691) -- (1522,2709) -- (1505,2700) -- (1495,2719) -- (1478,2720) -- (1459,2705);
	\draw[dbond] (1488,2670) -- (1470,2681) (1505,2682) -- (1505,2700) (1522,2676) -- (1533,2691) (1478,2720) -- (1466,2736);
	\atoms{OH/1491/2652,O/1470/2681,N/1522/2676,N/1522/2709,H/1522/2719,N/1495/2719,H/1495/2728,H\textsubscript{2}N/1459/2705,O/1466/2736}

	\draw[bond] (1445,2975) -- (1423,2986) -- (1429,3008) -- (1445,3018) -- (1463,3008) (1463,2986) -- (1445,2975) (1463,2986) -- (1500,2986) -- (1495,3006) (1478,3014) -- (1463,3008);
	\draw[dbond] (1445,2975) -- (1445,2958) (1429,3008) -- (1413,3014) (1463,3008) -- (1463,2986) (1495,3006) -- (1478,3014);
	\atoms{O/1445/2958,HN/1423/2986,O/1413/3014,N/1445/3016,H/1445/3026,NH/1500/2986,N/1478/3014}

	\draw[bond] (1680,3299) -- (1658,3307) -- (1664,3324) (1679,3335) -- (1696,3324) -- (1732,3325) -- (1727,3312) (1696,3308) -- (1680,3299) (1696,3308) -- (1711,3299);
	\draw[dbond] (1680,3299) -- (1680,3280) (1664,3324) -- (1679,3335) (1696,3324) -- (1696,3308) (1711,3299) -- (1727,3312);
	\atoms{O/1680/3280,HN/1658/3307,N/1679/3335,N/1711/3299,NH/1734/3325}

	\draw[bond] (1640,3564) -- (1635,3585) -- (1650,3594) (1650,3613) -- (1632,3623) (1616,3613) -- (1596,3619) -- (1585,3604) (1596,3587) -- (1616,3593) -- (1635,3585);
	\draw[dbond] (1650,3594) -- (1650,3613) (1632,3623) -- (1616,3613) (1616,3613) -- (1616,3593) (1596,3587) -- (1585,3604);
	\atoms{NH\textsubscript{2}/1643/3564,N/1650/3594,N/1632/3623,N/1596/3587,N/1596/3619,H/1596/3630}

	\draw[bond] (1315,3601) -- (1361,3601) -- (1372,3586);
	\draw[boldb] (1372,3586) -- (1392,3592);
	\draw[hash] (1424,3592) -- (1443,3585);
	\draw[bond] (1443,3585) -- (1527,3585);
	\atoms{HO/1315/3601,O/1361/3601,O/1443/3585,O/1483/3585,OH/1527/3585}
	\PO{1340}{3601}{O}{OH}
	\PO{1463}{3585}{HO}{O}
	\PO{1502}{3585}{HO}{O}
	\fur{1408}{3596}{hash}{hash}

	\draw[bond] (1210,3857) -- (1294,3857);
	\atoms{HO/1210/3857,O/1252/3857,OH/1294/3857}
	\PO{1234}{3857}{O}{OH}
	\PO{1271}{3857}{O}{OH}

	\draw[bond] (1357,3855) -- (1402,3855) -- (1415,3842);
	\draw[boldb] (1415,3842) -- (1436,3850) (1468,3850) -- (1482,3845);
	\atoms{HO/1357/3855,O/1402/3855}
	\PO{1381}{3855}{O}{HO}
	\fur{1452}{3854}{hash}{hash}
	\place{1485}{3844}{1}{\adeA}

	\draw[bond] (914,4108) -- (959,4108) -- (974,4094);
	\draw[boldb] (974,4094) -- (989,4100);
	\draw[bond] (1021,4100) -- (1046,4092);
	\atoms{HO/914/4108,O/959/4108,OH/1046/4092}
	\PO{939}{4108}{O}{OH}
	\fur{1005}{4104}{hash}{hash}
\end{tikzpicture}
\end{document}
